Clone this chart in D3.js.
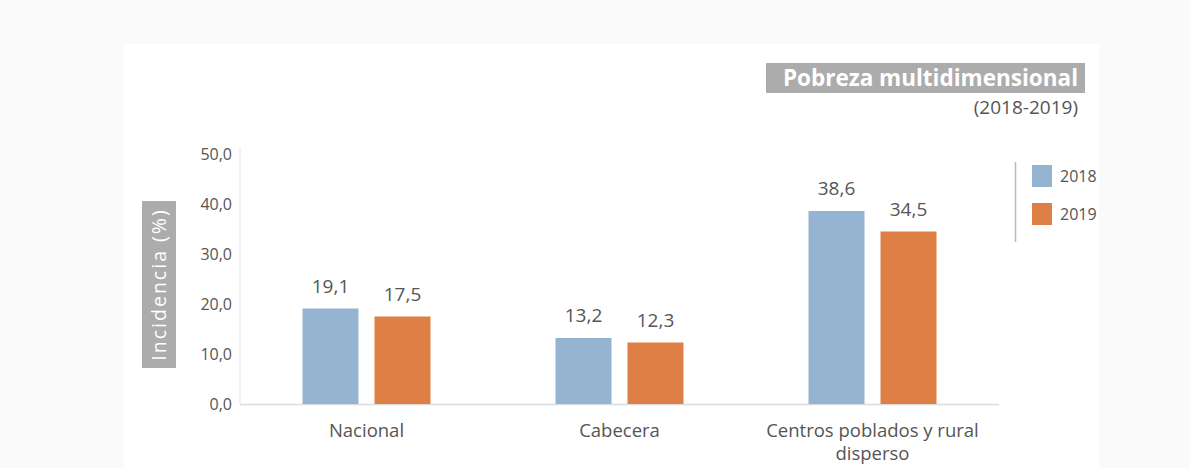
<!DOCTYPE html>
<html>
<head>
<meta charset="utf-8">
<script src="https://cdn.jsdelivr.net/npm/d3@7"></script>
<style>
  html, body { margin: 0; padding: 0; background: #fafafa; }
  svg { display: block; font-family: "Open Sans", sans-serif; }
</style>
</head>
<body>
<svg id="chart" width="1190" height="468"></svg>
<script>
// Data
const categories = ["Nacional", "Cabecera", "Centros poblados y rural disperso"];
const categoryLines = [["Nacional"], ["Cabecera"], ["Centros poblados y rural", "disperso"]];
const years = ["2018", "2019"];
const values2018 = [19.1, 13.2, 38.6];
const values2019 = [17.5, 12.3, 34.5];
const yTicks = [0, 10, 20, 30, 40, 50];
const colors = ["#94b4d2", "#de7f45"];

const fmt = v => d3.format(".1f")(v).replace(".", ",");

const svg = d3.select("#chart");

// white panel
svg.append("rect").attr("x", 124).attr("y", 44).attr("width", 975).attr("height", 424).attr("fill", "#ffffff");

const x0 = d3.scaleBand().domain(categories).range([240, 999]);
const y = d3.scaleLinear().domain([0, 50]).range([404, 154]);
const barW = 56, gap = 16, groupW = barW * 2 + gap;
// group offsets for each year's bar
const x1 = d3.scaleOrdinal().domain(years).range([0, barW + gap]);

// axes
svg.append("line").attr("x1", 240).attr("x2", 240).attr("y1", 147).attr("y2", 404).attr("stroke", "#e3e3e3").attr("stroke-width", 1);
svg.append("line").attr("x1", 240).attr("x2", 999).attr("y1", 404.5).attr("y2", 404.5).attr("stroke", "#dcdcdc").attr("stroke-width", 1.5);

const yAxis = d3.axisLeft(y).tickValues(yTicks).tickFormat(fmt).tickSize(0).tickPadding(8);
const gy = svg.append("g").attr("transform", "translate(240,0)").call(yAxis);
gy.select(".domain").remove();
gy.selectAll("text").attr("fill", "#555").style("font-size", "16px").style("font-family", "'Open Sans', sans-serif");

// bars
const series = [values2018, values2019];
categories.forEach((c, i) => {
  const bandX = x0(c) + (x0.bandwidth() - groupW) / 2;
  years.forEach((yr, j) => {
    const v = series[j][i];
    const bx = bandX + x1(yr);
    svg.append("rect")
      .attr("x", bx).attr("y", y(v))
      .attr("width", barW).attr("height", y(0) - y(v))
      .attr("fill", colors[j]);
    svg.append("text")
      .attr("x", bx + barW / 2).attr("y", y(v) - 16)
      .attr("text-anchor", "middle").attr("fill", "#555")
      .style("font-size", "19px")
      .text(fmt(v));
  });
  const t = svg.append("text")
    .attr("x", x0(c) + x0.bandwidth() / 2).attr("y", 437)
    .attr("text-anchor", "middle").attr("fill", "#555").style("font-size", "18.5px");
  categoryLines[i].forEach((ln, k) => {
    t.append("tspan").attr("x", x0(c) + x0.bandwidth() / 2).attr("dy", k === 0 ? 0 : 23).text(ln);
  });
});

// y axis title
svg.append("rect").attr("x", 142).attr("y", 201).attr("width", 34).attr("height", 167).attr("fill", "#acacac");
svg.append("text")
  .attr("transform", "translate(166,284.5) rotate(-90)")
  .attr("text-anchor", "middle").attr("fill", "#fff")
  .style("font-size", "19.5px").style("letter-spacing", "2px")
  .text("Incidencia (%)");

// title
svg.append("rect").attr("x", 766).attr("y", 63).attr("width", 319).attr("height", 30).attr("fill", "#acacac");
svg.append("text")
  .attr("x", 1078).attr("y", 86).attr("text-anchor", "end").attr("fill", "#fff")
  .style("font-size", "22.5px").style("font-weight", "bold")
  .text("Pobreza multidimensional");
svg.append("text")
  .attr("x", 1078).attr("y", 114).attr("text-anchor", "end").attr("fill", "#555")
  .style("font-size", "19px")
  .text("(2018-2019)");

// legend
svg.append("line").attr("x1", 1015.5).attr("x2", 1015.5).attr("y1", 162).attr("y2", 242).attr("stroke", "#bbb").attr("stroke-width", 1.5);
years.forEach((yr, j) => {
  svg.append("rect").attr("x", 1032).attr("y", 165 + j * 38).attr("width", 20).attr("height", 22).attr("fill", colors[j]);
  svg.append("text").attr("x", 1060).attr("y", 182 + j * 38).attr("fill", "#555").style("font-size", "16px").text(yr);
});
</script>
</body>
</html>
